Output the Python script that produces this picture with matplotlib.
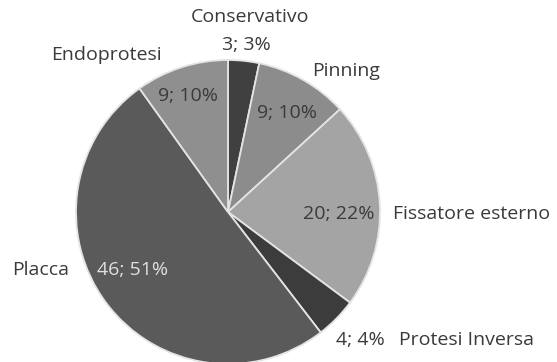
import numpy as np
import matplotlib.pyplot as plt

plt.rcParams['font.family'] = ['Open Sans', 'DejaVu Sans']

categories = ["Conservativo", "Pinning", "Fissatore esterno", "Protesi Inversa", "Placca", "Endoprotesi"]
values = [3, 9, 20, 4, 46, 9]
colors = ["#404040", "#8c8c8c", "#a4a4a4", "#3c3c3c", "#5a5a5a", "#8f8f8f"]

# where the category name and the "n; p%" label sit (data units, pie radius = 1)
name_pos = [(0.145, 1.28), (0.78, 0.93), (1.60, -0.01), (1.57, -0.84), (-1.23, -0.38), (-0.80, 1.03)]
value_pos = [(0.12, 1.10), (0.39, 0.65), (0.73, -0.01), (0.87, -0.84), (-0.63, -0.38), (-0.26, 0.76)]
value_colors = ["#3a3a3a", "#3a3a3a", "#3a3a3a", "#3a3a3a", "#e0e0e0", "#3a3a3a"]

fig = plt.figure(figsize=(5.57, 3.62), dpi=100)
ax = fig.add_axes([0, 0, 1, 1])

ax.pie(values, colors=colors, startangle=90, counterclock=False, radius=1,
       wedgeprops=dict(edgecolor="#e4e4e4", linewidth=1.3))

total = sum(values)
fs = 14
for name, v, (nx, ny), (vx, vy), vc in zip(categories, values, name_pos, value_pos, value_colors):
    pct = int(np.floor(v / total * 100 + 0.5))
    ax.text(nx, ny, name, ha="center", va="center", fontsize=fs, color="#3a3a3a")
    ax.text(vx, vy, f"{v}; {pct}%", ha="center", va="center", fontsize=fs, color=vc)

# pie centre at about (228, 212) px, 152 px per unit
ax.set_xlim(-228 / 152, (557 - 228) / 152)
ax.set_ylim(-(362 - 212) / 152, 212 / 152)
ax.set_aspect("equal")
ax.axis("off")

fig.savefig("out.png", dpi=100)
